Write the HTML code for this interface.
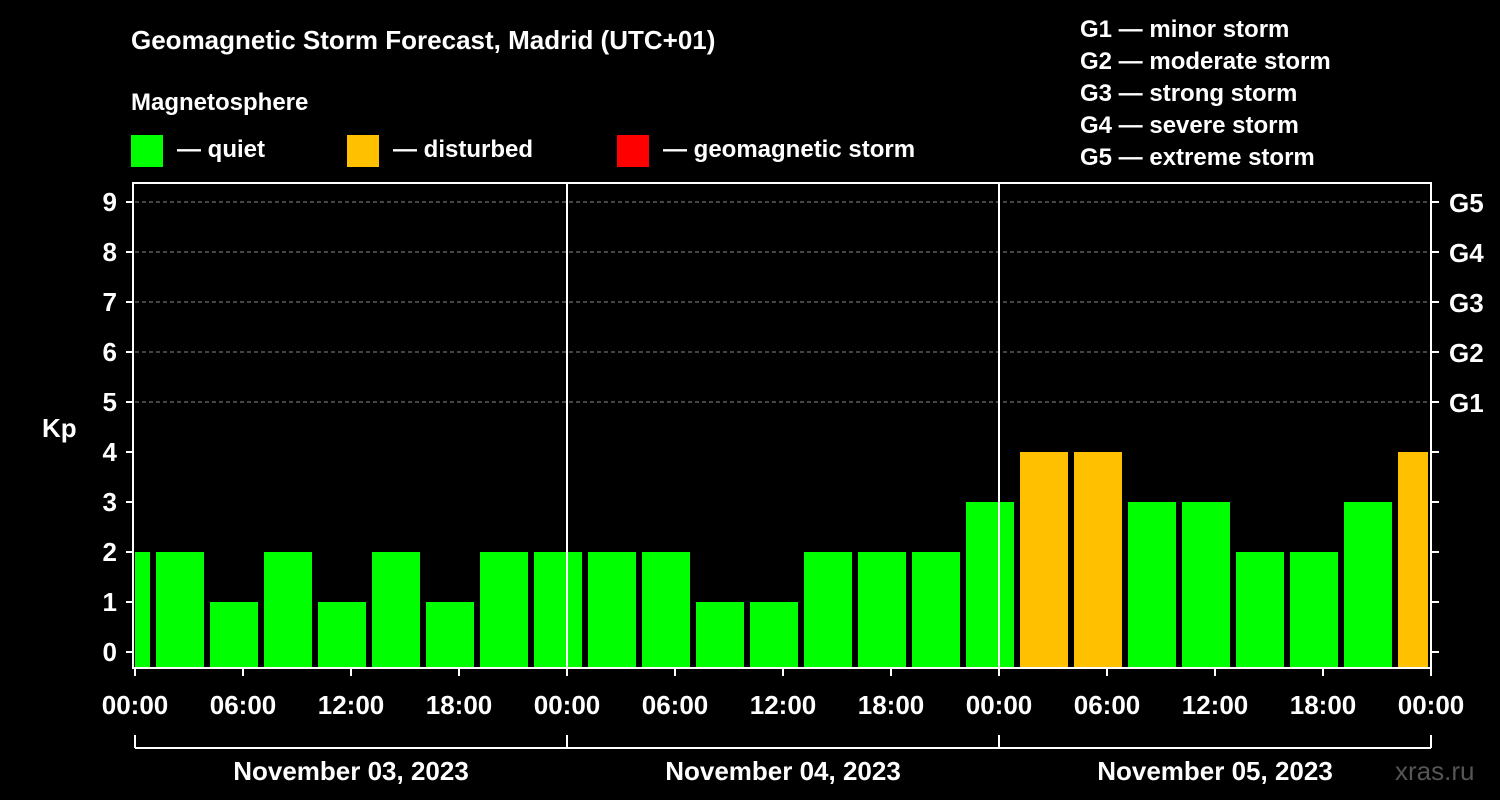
<!DOCTYPE html>
<html><head><meta charset="utf-8"><style>
body{margin:0;background:#000;}
svg{display:block;font-family:"Liberation Sans",Arial,sans-serif;font-weight:bold;}
</style></head><body>
<svg id="c" width="1500" height="800" viewBox="0 0 1500 800">
<rect width="1500" height="800" fill="#000"/>
<text x="131" y="49" fill="#fff" font-size="26">Geomagnetic Storm Forecast, Madrid (UTC+01)</text>
<text x="131" y="110" fill="#fff" font-size="24">Magnetosphere</text>
<g><rect x="131" y="135" width="32" height="32" fill="#00ff00"/><text x="177" y="157" fill="#fff" font-size="24">— quiet</text></g>
<g><rect x="347" y="135" width="32" height="32" fill="#ffc000"/><text x="393" y="157" fill="#fff" font-size="24">— disturbed</text></g>
<g><rect x="617" y="135" width="32" height="32" fill="#ff0000"/><text x="663" y="157" fill="#fff" font-size="24">— geomagnetic storm</text></g>
<g fill="#fff" font-size="24">
<text x="1080" y="37">G1 — minor storm</text>
<text x="1080" y="69">G2 — moderate storm</text>
<text x="1080" y="101">G3 — strong storm</text>
<text x="1080" y="133">G4 — severe storm</text>
<text x="1080" y="165">G5 — extreme storm</text>
</g>
<text x="42" y="437" fill="#fff" font-size="26">Kp</text>
<text x="1395" y="780" fill="#555" font-size="26" font-weight="normal">xras.ru</text>
<g id="plot"></g>
</svg>
<script>
const kpValues=[2,2,1,2,1,2,1,2,2,2,2,1,1,2,2,2,3,4,4,3,3,2,2,3,4];
const yTicks=[0,1,2,3,4,5,6,7,8,9];
const gLabels=["G1","G2","G3","G4","G5"];
const timeLabels=["00:00","06:00","12:00","18:00","00:00","06:00","12:00","18:00","00:00","06:00","12:00","18:00","00:00"];
const dateLabels=["November 03, 2023","November 04, 2023","November 05, 2023"];
const L=135,R=1431,T=183,B=668,HOURS=72;
const x=h=>L+(R-L)*h/HOURS;
const y=v=>652-50*v;
const NS="http://www.w3.org/2000/svg";
const g=document.getElementById('plot');
function mk(t,a,p){const e=document.createElementNS(NS,t);for(const k in a)e.setAttribute(k,a[k]);(p||g).appendChild(e);return e;}
// grid
yTicks.forEach(v=>{if(v>=5){const l=mk('line',{x1:L,x2:R,y1:y(v),y2:y(v),stroke:'#888','stroke-dasharray':'4,3','stroke-width':1});

}});
// bars
kpValues.forEach((v,i)=>{const h0=-2+3*i,h1=h0+3;
let x0=x(h0)+3,x1=x(h1)-3;x0=Math.max(x0,L);x1=Math.min(x1,R-3);
const c=v>=5?'#ff0000':(v>=4?'#ffc000':'#00ff00');
const r=mk('rect',{x:x0,y:y(v),width:x1-x0,height:B-y(v),fill:c});

});
// day separators
[24,48].forEach(h=>{const l=mk('line',{x1:x(h),x2:x(h),y1:T,y2:B,stroke:'#fff','stroke-width':2});

});
// frame
const f=mk('rect',{x:L-2,y:T,width:R-L+2,height:B-T,fill:'none',stroke:'#fff','stroke-width':2});


// y ticks
yTicks.forEach(v=>{mk('line',{x1:L-9,x2:L-2,y1:y(v),y2:y(v),stroke:'#fff','stroke-width':2});
mk('line',{x1:R,x2:R+8,y1:y(v),y2:y(v),stroke:'#fff','stroke-width':2});
const t=mk('text',{x:117,y:y(v)+9,fill:'#fff','font-size':26,'text-anchor':'end'});t.textContent=v;

});
gLabels.forEach((s,i)=>{const t=mk('text',{x:1449,y:y(5+i)+10,fill:'#fff','font-size':26});t.textContent=s;

});
// x ticks
timeLabels.forEach((s,i)=>{const xx=x(i*6);mk('line',{x1:xx,x2:xx,y1:B,y2:B+8,stroke:'#fff','stroke-width':2});
const t=mk('text',{x:xx,y:714,fill:'#fff','font-size':26,'text-anchor':'middle'});t.textContent=s;

});
// date bracket
mk('line',{x1:L,x2:R,y1:748,y2:748,stroke:'#fff','stroke-width':2});
[0,24,48,72].forEach(h=>mk('line',{x1:x(h),x2:x(h),y1:735,y2:748,stroke:'#fff','stroke-width':2}));
dateLabels.forEach((s,i)=>{const t=mk('text',{x:x(i*24+12),y:780,fill:'#fff','font-size':26,'text-anchor':'middle'});t.textContent=s;

});
</script>
</body></html>
